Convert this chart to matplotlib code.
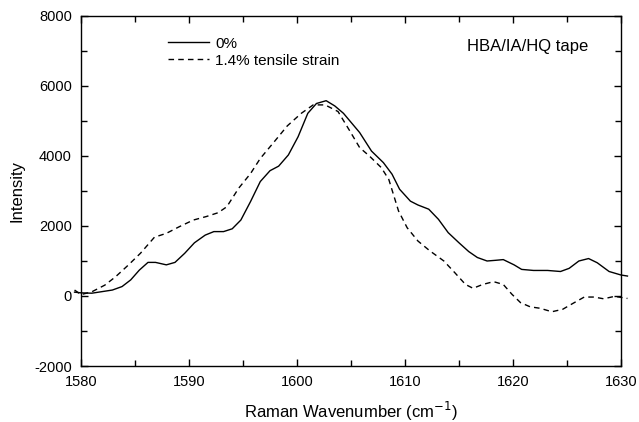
import matplotlib
matplotlib.use('Agg')
import matplotlib.pyplot as plt
from matplotlib.ticker import MultipleLocator

plt.rcParams['font.family'] = ['Liberation Sans', 'DejaVu Sans']
plt.rcParams['axes.unicode_minus'] = False

# 0% strain spectrum
wav_0 = [1579.4, 1580, 1581, 1582.9, 1583.8, 1584.6, 1585.4, 1586.2, 1586.9, 1587.9,
         1588.7, 1589.6, 1590.5, 1591.5, 1592.3, 1593.2, 1594.0, 1594.8, 1595.7, 1596.6,
         1597.5, 1598.3, 1599.2, 1600.1, 1601.0, 1601.8, 1602.7, 1603.5, 1604.3, 1604.9,
         1605.8, 1606.9, 1608.0, 1608.8, 1609.5, 1610.5, 1611.2, 1612.2, 1613.1, 1614.0,
         1615.0, 1615.9, 1616.7, 1617.6, 1618.4, 1619.1, 1620.1, 1620.8, 1621.9, 1623.2,
         1624.4, 1625.2, 1626.1, 1627.0, 1627.8, 1628.9, 1630.0, 1630.6]
int_0 = [110, 90, 80, 170, 270, 460, 740, 960, 960, 890,
         960, 1220, 1520, 1740, 1840, 1840, 1920, 2170, 2700, 3270,
         3580, 3710, 4030, 4550, 5220, 5500, 5580, 5430, 5220, 5000,
         4670, 4140, 3810, 3480, 3050, 2710, 2600, 2480, 2190, 1810,
         1520, 1270, 1100, 1000, 1020, 1040, 890, 760, 730, 730,
         700, 790, 1000, 1070, 950, 700, 600, 570]

# 1.4% tensile strain spectrum
wav_s = [1579.4, 1580, 1581, 1582.2, 1583.2, 1584.4, 1585.5, 1586.8, 1587.9, 1589.1,
         1590.4, 1591.6, 1592.7, 1593.5, 1594.6, 1595.7, 1596.6, 1597.9, 1599.1, 1600.4,
         1601.5, 1602.6, 1603.8, 1604.9, 1605.8, 1606.7, 1607.8, 1608.5, 1609.4, 1610.2,
         1611.2, 1612.3, 1613.6, 1614.6, 1615.6, 1616.3, 1617.2, 1618.2, 1619.1, 1619.9,
         1620.7, 1621.6, 1622.5, 1623.6, 1624.6, 1625.5, 1626.6, 1627.5, 1628.4, 1629.4,
         1630.6]
int_s = [170, 40, 120, 310, 550, 890, 1220, 1680, 1790, 1980,
         2170, 2270, 2380, 2550, 3080, 3500, 3930, 4410, 4860, 5220,
         5460, 5460, 5270, 4710, 4240, 4000, 3670, 3330, 2430, 1950,
         1570, 1290, 1000, 670, 330, 220, 330, 410, 330, 50,
         -190, -310, -350, -450, -380, -220, -30, -30, -80, -10,
         -70]

fig = plt.figure(figsize=(6.39, 4.22), dpi=100)
ax = fig.add_axes([0.1268, 0.1327, 0.845, 0.8294])

ax.plot(wav_0, int_0, color='black', lw=1.0, clip_on=False, label='0%')
ax.plot(wav_s, int_s, color='black', lw=1.0, ls=(0, (4, 3)), clip_on=False,
        label='1.4% tensile strain')

ax.set_xlim(1580, 1630)
ax.set_ylim(-2000, 8000)
ax.xaxis.set_major_locator(MultipleLocator(10))
ax.xaxis.set_minor_locator(MultipleLocator(5))
ax.yaxis.set_major_locator(MultipleLocator(2000))
ax.yaxis.set_minor_locator(MultipleLocator(1000))
ax.tick_params(which='both', direction='in', top=True, right=True, width=1.0, labelsize=10.5)
ax.tick_params(which='major', length=5)
ax.tick_params(which='minor', length=4)
ax.tick_params(axis='x', which='major', pad=6.5)
ax.tick_params(axis='y', which='major', pad=6.5)
for s in ax.spines.values():
    s.set_linewidth(1.0)

ax.set_xlabel('Raman Wavenumber (cm$^{-1}$)', fontsize=12, labelpad=8)
ax.set_ylabel('Intensity', fontsize=12, labelpad=7)

ax.legend(loc='upper left', bbox_to_anchor=(0.135, 0.98), frameon=False, fontsize=11,
          handlelength=2.7, handletextpad=0.4, labelspacing=0.2)
ax.text(0.939, 0.90, 'HBA/IA/HQ tape', transform=ax.transAxes, ha='right', va='baseline',
        fontsize=12)

fig.savefig('out.png', dpi=100)
